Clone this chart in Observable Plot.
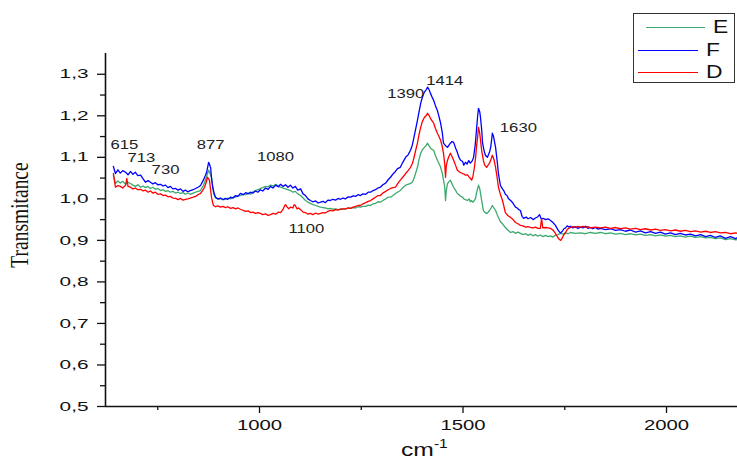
<!DOCTYPE html>
<html>
<head>
<meta charset="utf-8">
<script src="https://cdn.jsdelivr.net/npm/d3@7"></script>
<script src="https://cdn.jsdelivr.net/npm/@observablehq/plot@0.6"></script>
<style>
  html, body { margin: 0; padding: 0; background: #fff; }
  #wrap { position: relative; width: 737px; height: 461px; overflow: hidden; }
  #legend { position: absolute; left: 633px; top: 13px; width: 102px; height: 70px; box-sizing: border-box; border: 1.5px solid #333; background: #fff; }
  #legend .ln { position: absolute; height: 0; border-top: 1.3px solid; }
  #legend .lb { position: absolute; font: 18px "Liberation Sans", Arial, sans-serif; line-height: 20px; transform: scaleX(1.27); transform-origin: left center; color: #111; }
</style>
</head>
<body>
<div id="wrap"></div>
<script>
// ---- data (wavenumber cm-1, transmittance) ----
const seriesNames = ["E", "F", "D"];
const seriesColors = ["#3caa6e", "#0000ff", "#ff0000"];

const seriesE = [[641,1.057],[646,1.037],[652,1.043],[658,1.038],[664,1.042],[671,1.035],[677,1.040],[683,1.037],[689,1.033],[695,1.030],[701,1.034],[708,1.028],[714,1.031],[720,1.027],[726,1.030],[732,1.025],[738,1.028],[744,1.023],[750,1.025],[757,1.020],[763,1.022],[769,1.018],[775,1.020],[781,1.016],[787,1.018],[794,1.014],[800,1.016],[806,1.013],[812,1.015],[818,1.011],[824,1.014],[830,1.011],[837,1.014],[843,1.016],[849,1.018],[855,1.020],[862,1.032],[867,1.045],[872,1.060],[875,1.069],[878,1.062],[882,1.052],[885,1.030],[887,1.013],[891,1.004],[894,1.001],[900,0.999],[906,1.001],[911,0.998],[916,0.999],[922,1.002],[929,1.000],[935,1.004],[941,1.004],[947,1.007],[953,1.008],[960,1.011],[966,1.010],[972,1.014],[978,1.011],[984,1.017],[990,1.020],[996,1.022],[1002,1.025],[1008,1.027],[1015,1.030],[1021,1.029],[1027,1.033],[1033,1.031],[1040,1.035],[1046,1.030],[1052,1.028],[1058,1.026],[1064,1.024],[1070,1.022],[1076,1.020],[1082,1.016],[1088,1.018],[1094,1.012],[1101,1.008],[1107,1.002],[1113,0.996],[1119,0.992],[1125,0.989],[1131,0.986],[1138,0.984],[1144,0.982],[1150,0.980],[1156,0.979],[1162,0.978],[1168,0.976],[1174,0.977],[1180,0.975],[1187,0.976],[1193,0.974],[1199,0.975],[1205,0.976],[1211,0.975],[1218,0.978],[1224,0.977],[1230,0.979],[1236,0.978],[1242,0.981],[1248,0.980],[1254,0.982],[1261,0.982],[1267,0.985],[1273,0.984],[1279,0.988],[1285,0.989],[1291,0.993],[1297,0.992],[1303,0.996],[1310,1.000],[1316,1.004],[1322,1.004],[1328,1.008],[1334,1.013],[1339,1.016],[1346,1.020],[1352,1.027],[1359,1.033],[1365,1.035],[1371,1.037],[1375,1.040],[1378,1.045],[1383,1.060],[1388,1.076],[1392,1.095],[1396,1.110],[1400,1.118],[1405,1.124],[1409,1.128],[1413,1.134],[1417,1.127],[1420,1.122],[1424,1.119],[1428,1.117],[1432,1.105],[1437,1.093],[1441,1.085],[1445,1.076],[1449,1.062],[1452,1.045],[1455,1.030],[1457,0.996],[1459,1.020],[1462,1.037],[1466,1.042],[1469,1.045],[1473,1.036],[1477,1.028],[1482,1.020],[1486,1.013],[1490,1.010],[1494,1.006],[1499,1.004],[1502,1.000],[1506,0.998],[1511,0.996],[1515,1.000],[1518,0.993],[1521,0.996],[1524,0.992],[1528,0.996],[1531,1.002],[1533,1.013],[1536,1.025],[1538,1.033],[1541,1.025],[1543,1.013],[1546,0.995],[1550,0.972],[1553,0.968],[1558,0.965],[1562,0.968],[1565,0.972],[1569,0.978],[1572,0.984],[1576,0.978],[1580,0.972],[1584,0.962],[1587,0.955],[1592,0.945],[1597,0.940],[1604,0.931],[1610,0.925],[1617,0.919],[1623,0.921],[1629,0.917],[1635,0.920],[1641,0.917],[1647,0.914],[1654,0.916],[1660,0.912],[1666,0.915],[1672,0.911],[1678,0.914],[1684,0.910],[1690,0.913],[1697,0.909],[1703,0.912],[1709,0.909],[1715,0.911],[1721,0.908],[1727,0.912],[1733,0.914],[1740,0.917],[1746,0.915],[1752,0.918],[1758,0.916],[1764,0.919],[1776,0.917],[1789,0.918],[1801,0.916],[1813,0.919],[1825,0.917],[1838,0.919],[1850,0.916],[1862,0.918],[1875,0.915],[1887,0.917],[1899,0.914],[1911,0.916],[1924,0.913],[1936,0.915],[1948,0.912],[1961,0.914],[1973,0.911],[1985,0.913],[1997,0.910],[2010,0.912],[2022,0.909],[2034,0.911],[2046,0.908],[2059,0.910],[2071,0.907],[2084,0.909],[2096,0.906],[2108,0.907],[2120,0.904],[2132,0.906],[2145,0.902],[2157,0.904],[2170,0.901],[2174,0.902]];

const seriesF = [[641,1.078],[646,1.061],[652,1.070],[658,1.062],[664,1.068],[671,1.064],[677,1.058],[683,1.066],[689,1.059],[695,1.064],[701,1.056],[708,1.057],[714,1.048],[720,1.040],[726,1.044],[732,1.040],[738,1.036],[744,1.039],[750,1.034],[757,1.035],[763,1.031],[769,1.033],[775,1.027],[781,1.030],[787,1.024],[794,1.025],[800,1.021],[806,1.024],[812,1.018],[818,1.021],[824,1.017],[830,1.020],[837,1.022],[843,1.025],[849,1.028],[855,1.032],[862,1.045],[867,1.056],[870,1.064],[873,1.078],[875,1.088],[877,1.084],[880,1.074],[882,1.050],[885,1.028],[889,1.012],[892,1.004],[898,1.000],[904,1.002],[910,0.998],[916,1.001],[922,0.999],[929,1.004],[935,1.002],[941,1.008],[947,1.006],[953,1.013],[960,1.010],[966,1.015],[972,1.012],[978,1.016],[984,1.014],[990,1.019],[996,1.016],[1002,1.022],[1008,1.019],[1015,1.026],[1021,1.023],[1027,1.030],[1033,1.026],[1040,1.033],[1046,1.029],[1052,1.035],[1058,1.030],[1064,1.034],[1070,1.028],[1076,1.033],[1082,1.026],[1088,1.030],[1094,1.021],[1101,1.024],[1107,1.012],[1113,1.008],[1119,1.000],[1125,0.996],[1131,0.993],[1138,0.995],[1144,0.990],[1150,0.992],[1156,0.994],[1162,0.991],[1168,0.997],[1174,0.996],[1180,0.999],[1187,0.997],[1193,1.001],[1199,0.999],[1205,1.002],[1211,1.000],[1218,1.005],[1224,1.004],[1230,1.007],[1236,1.006],[1242,1.010],[1248,1.008],[1254,1.012],[1261,1.011],[1267,1.016],[1273,1.016],[1279,1.020],[1285,1.022],[1291,1.026],[1297,1.028],[1303,1.034],[1310,1.038],[1316,1.046],[1322,1.052],[1328,1.060],[1334,1.066],[1339,1.073],[1346,1.076],[1352,1.088],[1359,1.100],[1365,1.106],[1371,1.117],[1375,1.128],[1378,1.141],[1383,1.165],[1388,1.189],[1392,1.210],[1396,1.230],[1400,1.244],[1405,1.257],[1409,1.262],[1413,1.269],[1417,1.262],[1420,1.254],[1424,1.245],[1428,1.237],[1432,1.225],[1437,1.213],[1441,1.198],[1445,1.182],[1449,1.160],[1452,1.134],[1457,1.128],[1462,1.124],[1466,1.130],[1469,1.134],[1473,1.138],[1477,1.136],[1482,1.122],[1486,1.112],[1490,1.100],[1494,1.093],[1499,1.090],[1502,1.081],[1506,1.088],[1510,1.084],[1514,1.092],[1518,1.086],[1523,1.092],[1526,1.100],[1530,1.130],[1533,1.165],[1536,1.200],[1538,1.218],[1541,1.210],[1543,1.196],[1546,1.165],[1548,1.134],[1552,1.115],[1555,1.105],[1558,1.102],[1560,1.100],[1565,1.112],[1568,1.124],[1570,1.140],[1572,1.158],[1575,1.150],[1580,1.124],[1584,1.090],[1587,1.061],[1592,1.032],[1597,1.024],[1600,1.020],[1604,1.011],[1608,1.008],[1612,1.000],[1617,0.996],[1621,0.992],[1625,0.986],[1629,0.980],[1633,0.978],[1637,0.974],[1641,0.972],[1645,0.958],[1649,0.953],[1655,0.956],[1660,0.952],[1666,0.955],[1672,0.950],[1678,0.954],[1684,0.957],[1688,0.962],[1692,0.952],[1697,0.953],[1703,0.950],[1709,0.952],[1715,0.948],[1721,0.943],[1727,0.936],[1733,0.926],[1737,0.920],[1740,0.918],[1744,0.922],[1748,0.928],[1752,0.930],[1756,0.935],[1760,0.932],[1764,0.934],[1770,0.930],[1776,0.933],[1782,0.929],[1789,0.932],[1795,0.930],[1801,0.934],[1807,0.929],[1813,0.931],[1819,0.928],[1825,0.931],[1832,0.927],[1838,0.929],[1850,0.926],[1862,0.928],[1875,0.924],[1887,0.926],[1899,0.922],[1911,0.925],[1924,0.920],[1936,0.923],[1948,0.918],[1961,0.921],[1973,0.917],[1985,0.920],[1997,0.915],[2010,0.918],[2022,0.914],[2034,0.917],[2046,0.913],[2059,0.915],[2071,0.911],[2084,0.914],[2096,0.909],[2108,0.912],[2120,0.907],[2132,0.911],[2145,0.905],[2157,0.909],[2170,0.904],[2174,0.907]];

const seriesD = [[641,1.061],[646,1.028],[652,1.032],[658,1.030],[664,1.026],[671,1.033],[674,1.049],[677,1.030],[683,1.028],[689,1.024],[695,1.026],[701,1.022],[708,1.023],[714,1.019],[720,1.021],[726,1.016],[732,1.019],[738,1.014],[744,1.016],[750,1.011],[757,1.012],[763,1.008],[769,1.009],[775,1.005],[781,1.006],[787,1.002],[794,1.001],[800,0.998],[806,1.001],[812,0.997],[818,0.999],[824,1.000],[830,1.002],[837,1.004],[843,1.006],[849,1.010],[855,1.013],[860,1.020],[865,1.028],[869,1.040],[872,1.052],[875,1.048],[877,1.045],[880,1.020],[882,1.004],[885,0.990],[887,0.984],[892,0.981],[898,0.983],[904,0.980],[910,0.982],[916,0.979],[922,0.981],[929,0.977],[935,0.979],[941,0.976],[947,0.978],[953,0.975],[960,0.972],[966,0.970],[972,0.971],[978,0.967],[984,0.968],[990,0.965],[996,0.967],[1002,0.965],[1008,0.962],[1015,0.964],[1021,0.960],[1027,0.962],[1033,0.965],[1040,0.963],[1046,0.968],[1052,0.967],[1058,0.975],[1062,0.984],[1064,0.986],[1068,0.980],[1072,0.976],[1076,0.980],[1082,0.978],[1085,0.986],[1088,0.984],[1092,0.976],[1096,0.978],[1101,0.974],[1107,0.968],[1113,0.967],[1119,0.963],[1125,0.965],[1131,0.962],[1138,0.966],[1144,0.963],[1150,0.965],[1156,0.967],[1162,0.966],[1168,0.970],[1174,0.972],[1180,0.971],[1187,0.974],[1193,0.973],[1199,0.975],[1205,0.976],[1211,0.976],[1218,0.978],[1224,0.977],[1230,0.980],[1236,0.982],[1242,0.984],[1248,0.984],[1254,0.988],[1261,0.991],[1267,0.994],[1273,0.996],[1279,1.000],[1285,1.004],[1291,1.008],[1297,1.008],[1303,1.014],[1310,1.018],[1316,1.022],[1322,1.025],[1328,1.027],[1334,1.028],[1339,1.036],[1346,1.045],[1352,1.052],[1359,1.061],[1365,1.068],[1371,1.076],[1375,1.084],[1378,1.093],[1383,1.114],[1388,1.134],[1392,1.155],[1396,1.172],[1400,1.186],[1405,1.196],[1409,1.200],[1413,1.206],[1417,1.200],[1420,1.194],[1424,1.188],[1428,1.182],[1432,1.170],[1437,1.158],[1441,1.150],[1445,1.141],[1449,1.126],[1452,1.110],[1455,1.085],[1457,1.052],[1459,1.080],[1462,1.093],[1466,1.104],[1469,1.110],[1473,1.102],[1477,1.093],[1482,1.080],[1486,1.069],[1490,1.066],[1494,1.063],[1499,1.061],[1502,1.060],[1506,1.057],[1511,1.058],[1515,1.052],[1518,1.050],[1521,1.045],[1524,1.052],[1528,1.076],[1531,1.100],[1533,1.124],[1536,1.150],[1538,1.172],[1541,1.158],[1543,1.141],[1546,1.115],[1550,1.093],[1553,1.082],[1558,1.076],[1562,1.082],[1565,1.086],[1569,1.096],[1572,1.105],[1576,1.095],[1580,1.076],[1584,1.050],[1587,1.028],[1592,1.010],[1597,0.996],[1600,0.984],[1604,0.967],[1610,0.960],[1617,0.955],[1623,0.950],[1629,0.943],[1635,0.940],[1641,0.936],[1647,0.935],[1654,0.932],[1660,0.933],[1666,0.931],[1672,0.930],[1678,0.932],[1684,0.929],[1690,0.929],[1693,0.952],[1696,0.930],[1703,0.931],[1709,0.930],[1715,0.929],[1721,0.925],[1727,0.917],[1733,0.907],[1737,0.902],[1740,0.900],[1744,0.906],[1748,0.914],[1752,0.919],[1756,0.926],[1760,0.929],[1764,0.931],[1770,0.933],[1776,0.931],[1782,0.934],[1789,0.932],[1795,0.934],[1801,0.931],[1807,0.933],[1813,0.930],[1825,0.932],[1838,0.930],[1850,0.932],[1862,0.929],[1875,0.931],[1887,0.928],[1899,0.930],[1911,0.927],[1924,0.929],[1936,0.926],[1948,0.928],[1961,0.925],[1973,0.927],[1985,0.924],[1997,0.926],[2010,0.923],[2022,0.925],[2034,0.922],[2046,0.924],[2059,0.921],[2071,0.923],[2084,0.920],[2096,0.922],[2108,0.919],[2120,0.921],[2132,0.918],[2145,0.919],[2157,0.916],[2170,0.918],[2174,0.917]];

const peakLabels = ["615", "713", "730", "877", "1080", "1100", "1390", "1414", "1630"];
const peakX = [668, 710, 769, 880, 1039, 1115, 1359, 1455, 1636];
const peakY = [1.131, 1.098, 1.071, 1.129, 1.100, 0.929, 1.254, 1.283, 1.172];

const xMajorTicks = [1000, 1500, 2000];
const xMinorTicks = [750, 1250, 1750];
const yMajorTicks = [0.5, 0.6, 0.7, 0.8, 0.9, 1.0, 1.1, 1.2, 1.3];
const yMinorTicks = [0.55, 0.65, 0.75, 0.85, 0.95, 1.05, 1.15, 1.25];

const xDomain = [621.6, 2174.4];
const yDomain = [0.5, 1.35];

// ---- build ----
const allSeries = [seriesE, seriesF, seriesD];
const rows = allSeries.flatMap((s, i) => s.map(([wn, t]) => ({wn, t, s: seriesNames[i]})));
const peaks = peakLabels.map((label, i) => ({label, x: peakX[i], y: peakY[i]}));

const chart = Plot.plot({
  width: 737,
  height: 461,
  marginLeft: 105,
  marginRight: 0,
  marginTop: 53,
  marginBottom: 55,
  style: {fontFamily: "'Liberation Sans', Arial, sans-serif", fontSize: "13px", background: "#fff", color: "#111", overflow: "visible"},
  x: {domain: xDomain},
  y: {domain: yDomain},
  color: {domain: seriesNames, range: seriesColors},
  marks: [
    Plot.axisX({ticks: xMajorTicks, tickSize: 7, tickPadding: 7, tickFormat: d => String(d), label: null, fontSize: 14, strokeWidth: 1.3}),
    Plot.axisX({ticks: xMinorTicks, tickSize: 4, tickFormat: () => "", label: null, strokeWidth: 1.3}),
    Plot.axisY({ticks: yMajorTicks, tickSize: 8, tickPadding: 9, tickFormat: d => d.toFixed(1).replace(".", ","), label: null, fontSize: 13, strokeWidth: 1.3}),
    Plot.axisY({ticks: yMinorTicks, tickSize: 5, tickFormat: () => "", label: null, strokeWidth: 1.3}),
    Plot.line(rows, {x: "wn", y: "t", z: "s", stroke: "s", strokeWidth: 1.3, strokeLinejoin: "round"}),
    Plot.ruleX([xDomain[0]], {stroke: "#111", strokeWidth: 1.6}),
    Plot.ruleY([yDomain[0]], {stroke: "#111", strokeWidth: 1.6}),
    Plot.text(peaks, {x: "x", y: "y", text: "label", fontSize: 13, fill: "#222", textAnchor: "middle", lineAnchor: "middle"})
  ]
});

const wrap = document.getElementById("wrap");
wrap.appendChild(chart);

const svg = d3.select(chart.tagName.toLowerCase() === "svg" ? chart : chart.querySelector("svg"));

function stretch(selector, factor) {
  svg.selectAll(selector).each(function () {
    const w = this.getComputedTextLength();
    if (w > 0) {
      d3.select(this).attr("textLength", w * factor).attr("lengthAdjust", "spacingAndGlyphs");
    }
  });
}
stretch('g[aria-label="x-axis tick label"] text', 1.45);
stretch('g[aria-label="y-axis tick label"] text', 1.6);
stretch('g[aria-label="text"] text', 1.28);

// axis titles
const xt = svg.append("text")
  .attr("transform", "translate(401,456) scale(1.3,1)")
  .attr("text-anchor", "start")
  .attr("font-family", "'Liberation Sans', Arial, sans-serif")
  .attr("font-size", 19)
  .attr("fill", "#111");
xt.append("tspan").text("cm");
xt.append("tspan").attr("font-size", 12).attr("dy", -8).text("-1");

svg.append("text")
  .attr("transform", "translate(19,215) rotate(-90) scale(1,1.27)")
  .attr("text-anchor", "middle")
  .attr("dy", "0.35em")
  .attr("font-family", "'Liberation Serif', 'Times New Roman', serif")
  .attr("font-size", 19.5)
  .attr("fill", "#111")
  .text("Transmitance");

// legend
const legend = document.createElement("div");
legend.id = "legend";
const legendLine = [[12, 71, 13], [4, 64, 36], [4, 64, 58]];
const legendText = [79, 72, 72];
seriesNames.forEach((name, i) => {
  const ln = document.createElement("div");
  ln.className = "ln";
  ln.style.left = legendLine[i][0] + "px";
  ln.style.width = (legendLine[i][1] - legendLine[i][0]) + "px";
  ln.style.top = legendLine[i][2] + "px";
  ln.style.borderTopColor = seriesColors[i];
  legend.appendChild(ln);
  const lb = document.createElement("span");
  lb.className = "lb";
  lb.style.left = legendText[i] + "px";
  lb.style.top = (legendLine[i][2] - 10) + "px";
  lb.textContent = name;
  legend.appendChild(lb);
});
wrap.appendChild(legend);
</script>
</body>
</html>
